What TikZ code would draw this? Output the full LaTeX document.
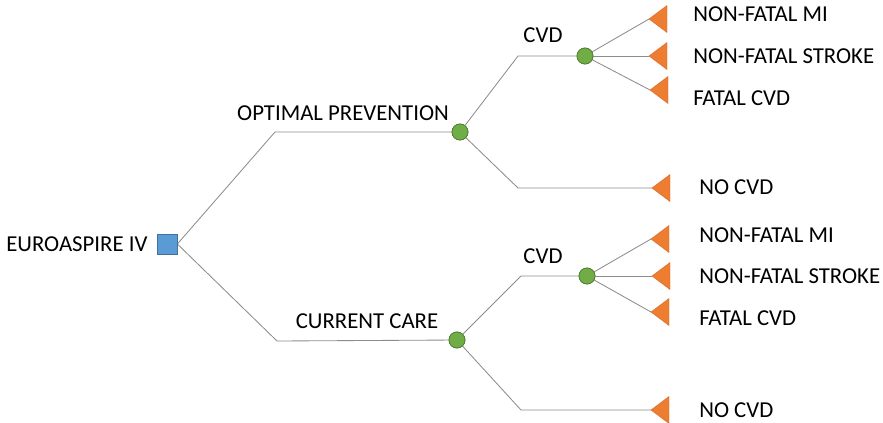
\documentclass[tikz,border=0pt]{standalone}
\usepackage{fontspec}
\setmainfont{Carlito}
\definecolor{tri}{HTML}{ED7D31}
\definecolor{trib}{HTML}{D9692A}
\definecolor{grn}{HTML}{70AD47}
\definecolor{grnb}{HTML}{507E32}
\definecolor{blu}{HTML}{5B9BD5}
\definecolor{blub}{HTML}{41719C}
\definecolor{ln}{HTML}{8C8C8C}
\begin{document}
\begin{tikzpicture}[x=0.025cm,y=-0.025cm,
  conn/.style={draw=ln,line width=0.6pt},
  chance/.style={circle,fill=grn,draw=grnb,line width=0.5pt,minimum size=0.4cm,inner sep=0pt},
  decision/.style={rectangle,fill=blu,draw=blub,line width=0.5pt,minimum size=0.5cm,inner sep=0pt},
  lbl/.style={font=\fontsize{16.2}{18}\selectfont,text=black,inner sep=0pt},
  term/.style={fill=tri,draw=trib,line width=0.3pt}]
\useasboundingbox (0,0) rectangle (883,422);
% nodes
\node[decision] (sq) at (167,244) {};
\node[chance] (c1) at (460,132) {};
\node[chance] (c2) at (585,56) {};
\node[chance] (c3) at (457,340) {};
\node[chance] (c4) at (587,276) {};
% elbows
\coordinate (e1) at (275,132);
\coordinate (e2) at (277,341);
\coordinate (e3) at (518,56);
\coordinate (e4) at (518,188);
\coordinate (e5) at (521,276);
\coordinate (e6) at (521,410);
% terminal tips
\coordinate (t1) at (649,19);
\coordinate (t2) at (649,56);
\coordinate (t3) at (650,90);
\coordinate (t4) at (652,188);
\coordinate (t5) at (651,239);
\coordinate (t6) at (652,276);
\coordinate (t7) at (651,312);
\coordinate (t8) at (651,410);
% connectors
\draw[conn] (sq.east) -- (e1) -- (c1);
\draw[conn] (sq.east) -- (e2) -- (c3);
\draw[conn] (c1) -- (e3) -- (c2);
\draw[conn] (c1) -- (e4) -- (t4);
\draw[conn] (c3) -- (e5) -- (c4);
\draw[conn] (c3) -- (e6) -- (t8);
\foreach \t in {t1,t2,t3}{\draw[conn] (c2) -- (\t);}
\foreach \t in {t5,t6,t7}{\draw[conn] (c4) -- (\t);}
% redraw nodes on top
\node[decision] at (sq) {};
\foreach \c in {c1,c2,c3,c4}{\node[chance] at (\c) {};}
% triangles
\foreach \t in {t1,t2,t3,t4,t5,t6,t7,t8}{\path[term] (\t) -- ++(18,-13.5) -- ++(0,27) -- cycle;}
% labels
\node[lbl,anchor=west] (lroot) at (6,244) {EUROASPIRE IV};
\node[lbl] (lopt) at (343,113) {OPTIMAL PREVENTION};
\node[lbl] (lcur) at (367,321) {CURRENT CARE};
\node[lbl] (lcvd1) at (543,35) {CVD};
\node[lbl] (lcvd2) at (543,256) {CVD};
\node[lbl,anchor=west] (l1) at (693,14) {NON-FATAL MI};
\node[lbl,anchor=west] (l2) at (693,56) {NON-FATAL STROKE};
\node[lbl,anchor=west] (l3) at (693,98) {FATAL CVD};
\node[lbl,anchor=west] (l4) at (699,187) {NO CVD};
\node[lbl,anchor=west] (l5) at (699,235) {NON-FATAL MI};
\node[lbl,anchor=west] (l6) at (699,276) {NON-FATAL STROKE};
\node[lbl,anchor=west] (l7) at (699,318) {FATAL CVD};
\node[lbl,anchor=west] (l8) at (699,410) {NO CVD};
\end{tikzpicture}
\end{document}
